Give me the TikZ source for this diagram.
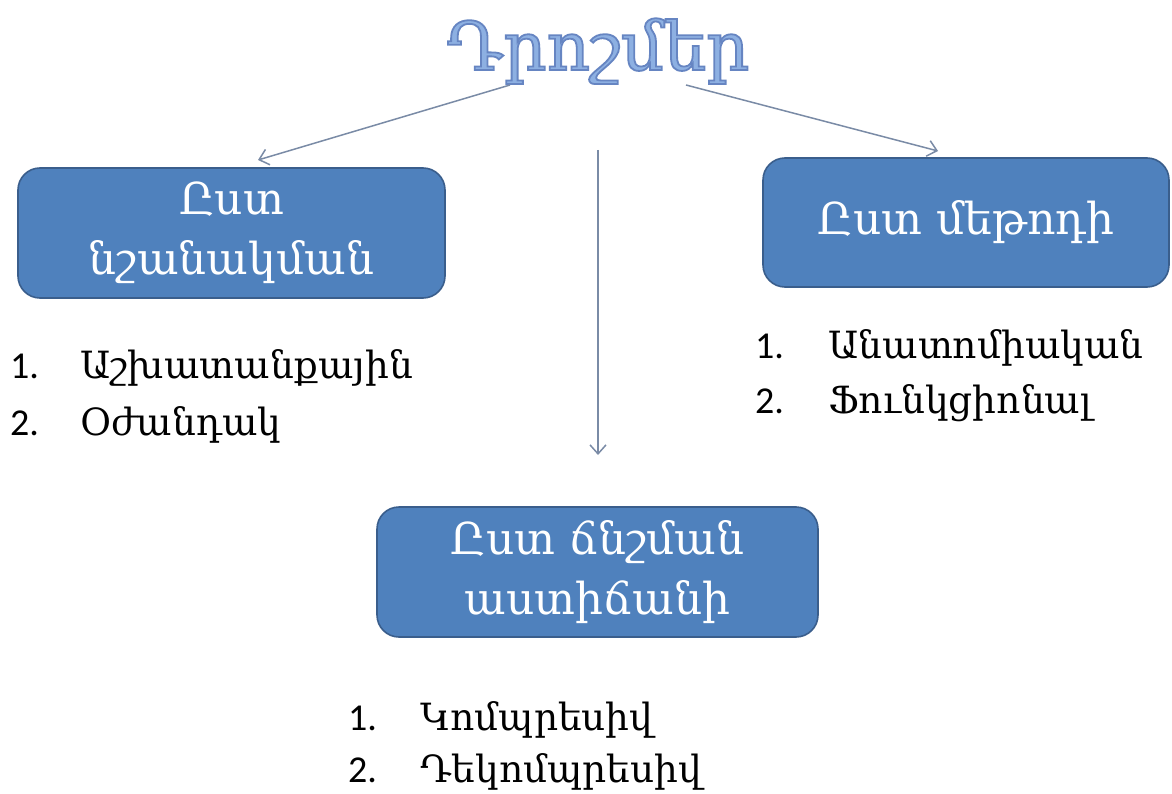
\documentclass[tikz,border=0pt]{standalone}
\usepackage{fontspec}
\setmainfont{DejaVu Serif}
\newfontfamily\numfont{Carlito}
\usetikzlibrary{arrows.meta}
\definecolor{boxblue}{RGB}{79,129,189}
\definecolor{boxedge}{RGB}{58,94,140}
\definecolor{linkgray}{RGB}{122,139,166}
\definecolor{titleblue}{RGB}{141,176,226}
% outlined lettering: fill and stroke the glyphs, stroke in a darker blue
\newcommand{\outlinedtext}[1]{%
  \special{pdf:literal direct 2 Tr 1.8 w 0.40 0.52 0.76 RG}#1\special{pdf:literal direct 0 Tr}}
\tikzset{
  catbox/.style={draw=boxedge, line width=1.6pt, fill=boxblue, rounded corners=22pt,
    text=white, align=center, inner sep=0pt,
    font=\fontsize{44}{60}\selectfont},
  link/.style={draw=linkgray, line width=1.5pt, -{Straight Barb[length=9pt,width=16pt]}},
  itemnum/.style={anchor=base west, inner sep=0pt, font=\numfont\fontsize{38}{40}\selectfont},
  itemtext/.style={anchor=base west, inner sep=0pt, font=\fontsize{37.5}{40}\selectfont},
  headline/.style={inner sep=0pt, anchor=base, font=\fontsize{67}{72}\selectfont}
}
\begin{document}
\begin{tikzpicture}[x=1pt,y=-1pt]
\useasboundingbox (0,0) rectangle (1172,794);

% heading
\node[headline, text=titleblue] (title) at (598,70) {\outlinedtext{Դրոշմեր}};

% three category boxes
\node[catbox, minimum width=427pt, minimum height=130pt] (purpose) at (231.5,233) {Ըստ\\նշանակման};
\node[catbox, minimum width=406pt, minimum height=129pt] (method) at (966,222.5) {Ըստ մեթոդի};
\node[catbox, minimum width=441pt, minimum height=130pt] (pressure) at (597.5,572) {Ըստ ճնշման\\աստիճանի};

% connectors
\coordinate (lstart) at (510,85);
\coordinate (lend) at (258,160);
\coordinate (rstart) at (686,85);
\coordinate (rend) at (938,151);
\coordinate (cstart) at (598,150);
\coordinate (cend) at (598,455);
\draw[link] (lstart) -- (lend);
\draw[link] (rstart) -- (rend);
\draw[link] (cstart) -- (cend);

% item lists
\node[itemnum] (p1n) at (10,378) {1.};
\node[itemtext] (p1) at (80,378) {Աշխատանքային};
\node[itemnum] (p2n) at (10,435) {2.};
\node[itemtext] (p2) at (80,435) {Օժանդակ};

\node[itemnum] (m1n) at (755,358) {1.};
\node[itemtext] (m1) at (828,358) {Անատոմիական};
\node[itemnum] (m2n) at (755,413) {2.};
\node[itemtext] (m2) at (828,413) {Ֆունկցիոնալ};

\node[itemnum] (c1n) at (348,730) {1.};
\node[itemtext] (c1) at (420,730) {Կոմպրեսիվ};
\node[itemnum] (c2n) at (348,782) {2.};
\node[itemtext] (c2) at (420,782) {Դեկոմպրեսիվ};
\end{tikzpicture}
\end{document}
